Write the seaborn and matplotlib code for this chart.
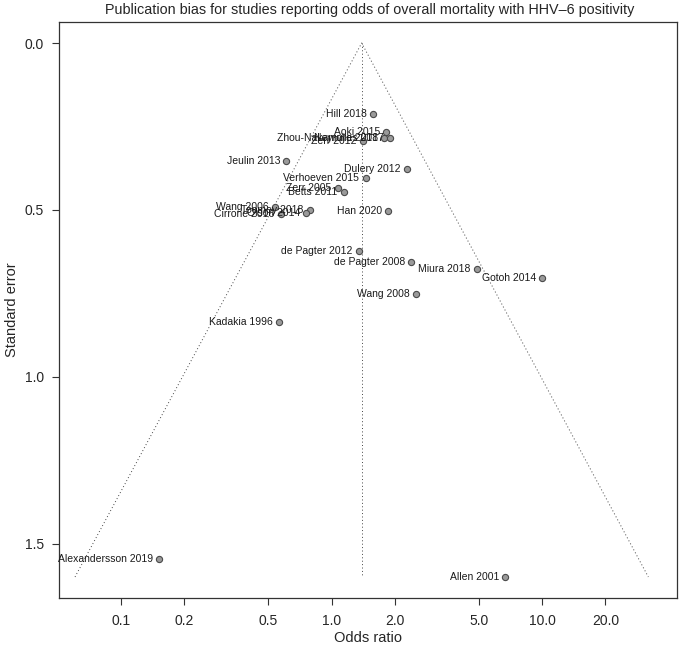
import numpy as np
import pandas as pd
import seaborn as sns
import matplotlib
matplotlib.use("Agg")
import matplotlib.pyplot as plt

# study labels, odds ratios and standard errors
studies = ["Hill 2018", "Aoki 2015", "Zhou-Nakamura 2018", "Neyrolles 2017", "Zerr 2012",
           "Jeulin 2013", "Dulery 2012", "Verhoeven 2015", "Zerr 2005", "Betts 2011",
           "Wang 2006", "Toomey 2018", "Olson 2014", "Cirrone 2016", "Han 2020",
           "de Pagter 2012", "de Pagter 2008", "Miura 2018", "Gotoh 2014", "Wang 2008",
           "Kadakia 1996", "Alexandersson 2019", "Allen 2001"]
odds_ratio = [1.57, 1.82, 1.78, 1.90, 1.41,
              0.61, 2.28, 1.45, 1.07, 1.14,
              0.54, 0.79, 0.76, 0.575, 1.86,
              1.35, 2.39, 4.90, 10.0, 2.51,
              0.565, 0.152, 6.69]
std_err = [0.213, 0.267, 0.284, 0.284, 0.293,
           0.355, 0.378, 0.405, 0.435, 0.447,
           0.491, 0.500, 0.509, 0.512, 0.502,
           0.624, 0.656, 0.678, 0.705, 0.751,
           0.836, 1.546, 1.600]
pooled_or = 1.39

x_ticks = [0.1, 0.2, 0.5, 1.0, 2.0, 5.0, 10.0, 20.0]
x_ticklabels = ["0.1", "0.2", "0.5", "1.0", "2.0", "5.0", "10.0", "20.0"]
y_ticks = [0.0, 0.5, 1.0, 1.5]

df = pd.DataFrame({"study": studies, "or": odds_ratio, "se": std_err})

sns.set_style("ticks")
plt.rcParams["font.family"] = ["Liberation Sans", "DejaVu Sans"]

fig = plt.figure(figsize=(6.79, 6.49), dpi=100)
ax = fig.add_axes([0.0869, 0.0781, 0.9101, 0.8885])

# funnel: pseudo 95% limits around the pooled estimate
se_max = df["se"].max()
ln_p = np.log(pooled_or)
ax.plot([np.exp(ln_p - 1.96 * se_max), pooled_or, np.exp(ln_p + 1.96 * se_max)],
        [se_max, 0, se_max], color="#444444", lw=0.7, ls=(0, (1, 2.5)))
ax.plot([pooled_or, pooled_or], [0, se_max], color="#444444", lw=0.7, ls=(0, (1, 2.5)))

sns.scatterplot(data=df, x="or", y="se", ax=ax, s=20, color="#9a9a9a",
                edgecolor="#4a4a4a", linewidth=0.8, zorder=3)

for _, row in df.iterrows():
    ax.annotate(row["study"], (row["or"], row["se"]), xytext=(-4.5, 0),
                textcoords="offset points", ha="right", va="center",
                fontsize=7.5, color="#1a1a1a", zorder=4)

ax.set_xscale("log")
ax.set_xlim(10 ** -1.295, 10 ** 1.641)
ax.set_ylim(1.664, -0.064)
ax.set_xticks(x_ticks)
ax.set_xticklabels(x_ticklabels)
ax.minorticks_off()
ax.set_yticks(y_ticks)
ax.set_yticklabels([f"{v:.1f}" for v in y_ticks])
ax.tick_params(length=5, width=0.8, color="#333333", labelsize=10)
ax.tick_params(axis="x", pad=6.5)
ax.tick_params(axis="y", pad=6)

for sp in ax.spines.values():
    sp.set_visible(True)
    sp.set_color("#333333")
    sp.set_linewidth(0.9)

ax.set_xlabel("Odds ratio", fontsize=10.5, labelpad=2)
ax.set_ylabel("Standard error", fontsize=10.5, labelpad=4)
fig.text(0.545, 0.984, "Publication bias for studies reporting odds of overall mortality with HHV\u20136 positivity",
         fontsize=10.4, ha="center", va="center")

fig.savefig("out.png", dpi=100)
